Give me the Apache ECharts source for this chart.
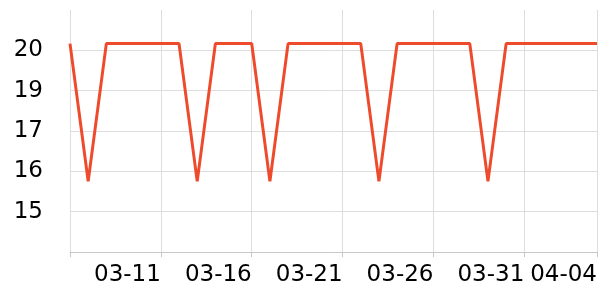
<!DOCTYPE html>
<html><head><meta charset="utf-8">
<script src="https://cdn.jsdelivr.net/npm/echarts@6/dist/echarts.min.js"></script>
<style>html,body{margin:0;padding:0;background:#fff}#c{width:600px;height:300px}</style>
</head><body><div id="c"></div>
<script>
const dates = ['2025-03-06','2025-03-07','2025-03-08','2025-03-09','2025-03-10','2025-03-11','2025-03-12','2025-03-13','2025-03-14','2025-03-15','2025-03-16','2025-03-17','2025-03-18','2025-03-19','2025-03-20','2025-03-21','2025-03-22','2025-03-23','2025-03-24','2025-03-25','2025-03-26','2025-03-27','2025-03-28','2025-03-29','2025-03-30','2025-03-31','2025-04-01','2025-04-02','2025-04-03','2025-04-04'];
const values = [20,15.9,20,20,20,20,20,15.9,20,20,20,15.9,20,20,20,20,20,15.9,20,20,20,20,20,15.9,20,20,20,20,20,20];
const xTicks = ['2025-03-06','2025-03-11','2025-03-16','2025-03-21','2025-03-26','2025-03-31','2025-04-04'];
const xLabels = ['2025-03-11','2025-03-16','2025-03-21','2025-03-26','2025-03-31','2025-04-04'];
const yTicks = [15,16.2,17.4,18.6,19.8];

const ts = d => Date.parse(d + 'T00:00:00Z');
const fmt = v => { const d = new Date(v); return String(d.getUTCMonth()+1).padStart(2,'0') + '-' + String(d.getUTCDate()).padStart(2,'0'); };

const chart = echarts.init(document.getElementById('c'), null, {renderer:'canvas'});
chart.setOption({
  animation:false,
  grid:{left:70,right:0,top:10,bottom:48,containLabel:false},
  xAxis:{
    type:'value',
    min:ts(dates[0]), max:ts(dates[dates.length-1]),
    axisLine:{lineStyle:{color:'#c8c8c8'}},
    axisTick:{show:true,length:5,lineStyle:{color:'#c8c8c8'},customValues:xTicks.map(ts)},
    splitLine:{show:true,lineStyle:{color:'#dddddd'}},
    axisLabel:{customValues:xLabels.map(ts),align:'right',margin:12,fontSize:23,color:'#000',fontFamily:'DejaVu Sans',formatter:fmt}
  },
  yAxis:{
    type:'value', min:13.8, max:21,
    axisLine:{show:false}, axisTick:{show:false,customValues:yTicks},
    splitLine:{show:true,lineStyle:{color:'#dddddd'}},
    axisLabel:{customValues:yTicks,margin:27,fontSize:23,color:'#000',fontFamily:'DejaVu Sans',formatter:v=>String(Math.round(v))}
  },
  series:[{type:'line',data:dates.map((d,i)=>[ts(d),values[i]]),showSymbol:false,lineStyle:{color:'#ee4a2c',width:3},itemStyle:{color:'#ee4a2c'}}]
});
</script></body></html>
